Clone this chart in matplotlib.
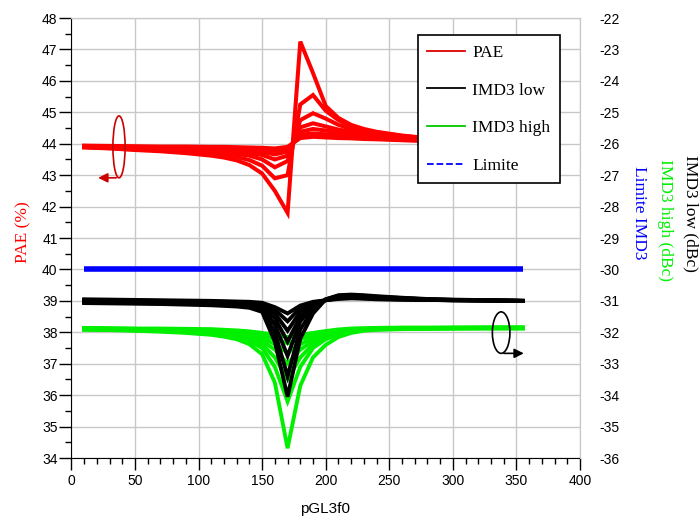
import matplotlib
matplotlib.use("Agg")
import matplotlib.pyplot as plt
from matplotlib.lines import Line2D
from matplotlib.patches import Ellipse
from matplotlib.ticker import MultipleLocator

plt.rcParams['font.family'] = ['Liberation Sans', 'DejaVu Sans']
plt.rcParams['axes.unicode_minus'] = False

# sweep of pGL3f0
x = [10, 30, 50, 70, 90, 110, 120, 130, 140, 150, 160, 170, 180, 190, 200, 210, 220, 230, 240, 260, 280, 300, 330, 355]

# PAE (%) family
pae = [
    [43.88, 43.85, 43.80, 43.76, 43.70, 43.62, 43.56, 43.47, 43.32, 43.05, 42.50, 41.80, 47.25, 46.25, 45.20, 44.82, 44.60, 44.47, 44.38, 44.26, 44.18, 44.13, 44.08, 44.06],
    [43.89, 43.86, 43.82, 43.79, 43.74, 43.68, 43.64, 43.58, 43.48, 43.30, 42.90, 43.00, 45.25, 45.55, 45.05, 44.75, 44.55, 44.44, 44.36, 44.25, 44.17, 44.12, 44.08, 44.06],
    [43.90, 43.87, 43.85, 43.82, 43.79, 43.75, 43.72, 43.68, 43.62, 43.50, 43.25, 43.45, 44.75, 44.97, 44.80, 44.60, 44.47, 44.39, 44.32, 44.22, 44.16, 44.11, 44.07, 44.05],
    [43.91, 43.89, 43.87, 43.85, 43.83, 43.80, 43.78, 43.75, 43.71, 43.64, 43.50, 43.62, 44.52, 44.65, 44.55, 44.45, 44.38, 44.32, 44.27, 44.20, 44.14, 44.10, 44.07, 44.05],
    [43.92, 43.90, 43.89, 43.87, 43.86, 43.84, 43.82, 43.80, 43.78, 43.74, 43.66, 43.75, 44.38, 44.47, 44.42, 44.36, 44.30, 44.26, 44.23, 44.17, 44.12, 44.09, 44.06, 44.04],
    [43.93, 43.91, 43.90, 43.89, 43.88, 43.87, 43.86, 43.85, 43.83, 43.81, 43.77, 43.83, 44.28, 44.33, 44.30, 44.27, 44.24, 44.21, 44.19, 44.14, 44.10, 44.08, 44.05, 44.04],
    [43.94, 43.93, 43.92, 43.91, 43.91, 43.90, 43.90, 43.89, 43.88, 43.87, 43.85, 43.90, 44.18, 44.22, 44.20, 44.18, 44.17, 44.15, 44.14, 44.11, 44.08, 44.06, 44.04, 44.03],
]

# IMD3 low (dBc) family
imd3_low = [
    [-31.07, -31.08, -31.09, -31.10, -31.12, -31.14, -31.16, -31.18, -31.22, -31.35, -32.30, -34.05, -32.20, -31.40, -30.95, -30.82, -30.80, -30.82, -30.85, -30.90, -30.94, -30.96, -30.98, -31.00],
    [-31.05, -31.06, -31.07, -31.08, -31.09, -31.11, -31.13, -31.15, -31.19, -31.29, -32.00, -33.40, -31.90, -31.30, -30.95, -30.84, -30.82, -30.84, -30.87, -30.91, -30.95, -30.97, -30.98, -31.00],
    [-31.03, -31.04, -31.05, -31.06, -31.07, -31.08, -31.10, -31.12, -31.15, -31.23, -31.75, -32.75, -31.65, -31.22, -30.96, -30.86, -30.84, -30.86, -30.88, -30.92, -30.95, -30.97, -30.99, -31.00],
    [-31.01, -31.02, -31.03, -31.04, -31.05, -31.06, -31.08, -31.10, -31.12, -31.18, -31.55, -32.30, -31.50, -31.15, -30.97, -30.88, -30.86, -30.88, -30.90, -30.93, -30.96, -30.98, -30.99, -31.00],
    [-30.99, -31.00, -31.01, -31.02, -31.03, -31.04, -31.06, -31.07, -31.09, -31.14, -31.40, -31.95, -31.35, -31.10, -30.98, -30.90, -30.88, -30.90, -30.92, -30.95, -30.97, -30.98, -30.99, -31.00],
    [-30.97, -30.98, -30.99, -31.00, -31.01, -31.02, -31.03, -31.04, -31.06, -31.10, -31.28, -31.65, -31.22, -31.06, -30.98, -30.92, -30.90, -30.92, -30.94, -30.96, -30.97, -30.98, -30.99, -31.00],
    [-30.95, -30.96, -30.97, -30.98, -30.99, -31.00, -31.01, -31.02, -31.03, -31.06, -31.20, -31.40, -31.15, -31.03, -30.98, -30.94, -30.92, -30.93, -30.95, -30.96, -30.97, -30.98, -30.99, -31.00],
]

# IMD3 high (dBc) family
imd3_high = [
    [-31.92, -31.93, -31.95, -31.98, -32.02, -32.08, -32.14, -32.22, -32.38, -32.70, -33.60, -35.69, -33.70, -32.80, -32.40, -32.15, -32.02, -31.95, -31.92, -31.90, -31.89, -31.88, -31.88, -31.88],
    [-31.91, -31.92, -31.94, -31.96, -31.99, -32.04, -32.08, -32.15, -32.28, -32.50, -33.10, -34.20, -33.10, -32.50, -32.22, -32.07, -31.98, -31.93, -31.91, -31.89, -31.88, -31.88, -31.87, -31.87],
    [-31.90, -31.91, -31.93, -31.95, -31.97, -32.01, -32.05, -32.10, -32.20, -32.38, -32.80, -33.50, -32.80, -32.38, -32.15, -32.03, -31.96, -31.92, -31.90, -31.88, -31.88, -31.87, -31.87, -31.87],
    [-31.89, -31.90, -31.92, -31.93, -31.95, -31.98, -32.02, -32.06, -32.14, -32.28, -32.55, -33.00, -32.55, -32.28, -32.10, -32.00, -31.94, -31.91, -31.89, -31.88, -31.87, -31.87, -31.86, -31.86],
    [-31.88, -31.89, -31.90, -31.92, -31.93, -31.96, -31.99, -32.02, -32.08, -32.18, -32.38, -32.65, -32.38, -32.18, -32.05, -31.97, -31.92, -31.90, -31.88, -31.87, -31.87, -31.86, -31.86, -31.86],
    [-31.87, -31.88, -31.89, -31.90, -31.91, -31.93, -31.95, -31.98, -32.02, -32.10, -32.22, -32.35, -32.22, -32.10, -32.00, -31.94, -31.90, -31.88, -31.87, -31.86, -31.86, -31.85, -31.85, -31.85],
    [-31.86, -31.87, -31.88, -31.88, -31.89, -31.90, -31.92, -31.94, -31.97, -32.02, -32.08, -32.15, -32.08, -32.02, -31.96, -31.91, -31.88, -31.87, -31.86, -31.85, -31.85, -31.85, -31.84, -31.84],
]

# IMD3 limit
limite_x = [10, 355]
limite = [-30, -30]

RED = '#ff0000'
GREEN = '#00f000'
BLUE = '#0000ff'
GRID = '#c8c8c8'

fig = plt.figure(figsize=(7, 5.25), dpi=100)
ax = fig.add_axes([0.1021, 0.1276, 0.7264, 0.8381])
ax2 = ax.twinx()

for y in pae:
    ax.plot(x, y, color=RED, lw=2.9, solid_joinstyle='miter', zorder=3)
for y in imd3_high:
    ax2.plot(x, y, color=GREEN, lw=2.8, solid_joinstyle='miter')
for y in imd3_low:
    ax2.plot(x, y, color='black', lw=2.8, solid_joinstyle='miter')
ax2.plot(limite_x, limite, color=BLUE, lw=4, solid_capstyle='butt')

ax.set_xlim(0, 400)
ax.set_ylim(34, 48)
ax2.set_ylim(-36, -22)

ax.xaxis.set_major_locator(MultipleLocator(50))
ax.xaxis.set_minor_locator(MultipleLocator(10))
ax.yaxis.set_major_locator(MultipleLocator(1))
ax.yaxis.set_minor_locator(MultipleLocator(0.5))
ax2.yaxis.set_major_locator(MultipleLocator(1))

ax.tick_params(which='major', direction='out', length=8.5, width=1, labelsize=10, pad=1.5)
ax.tick_params(which='minor', direction='out', length=4.5, width=1)
ax.tick_params(axis='x', which='major', pad=3)
ax2.tick_params(which='major', length=0, labelsize=10, pad=14)

ax.grid(True, which='major', color=GRID, lw=1)
ax.set_axisbelow(True)
for s in ['top', 'right']:
    ax.spines[s].set_color(GRID)
    ax2.spines[s].set_color(GRID)
ax2.spines['left'].set_visible(False)
ax2.spines['bottom'].set_visible(False)

# rotation markers pointing to each axis
ax.add_patch(Ellipse((37.4, 43.9), 9.6, 1.97, fill=False, ec='#cc0000', lw=1.2, zorder=4))
ax.annotate('', xy=(18.8, 42.915), xytext=(37.4, 42.915),
            arrowprops=dict(arrowstyle='-|>', color='#cc0000', lw=1.2, mutation_scale=14), zorder=4)
ax2.add_patch(Ellipse((338, -32.01), 13.8, 1.32, fill=False, ec='black', lw=1.2, zorder=4))
ax2.annotate('', xy=(358, -32.67), xytext=(338, -32.67),
             arrowprops=dict(arrowstyle='-|>', color='black', lw=1.2, mutation_scale=14), zorder=4)

handles = [Line2D([], [], color='#dd0000', lw=1.3),
           Line2D([], [], color='black', lw=1.3),
           Line2D([], [], color='#00c800', lw=1.3),
           Line2D([], [], color=BLUE, lw=1.3, ls='--')]
leg = ax2.legend(handles, ['PAE', 'IMD3 low', 'IMD3 high', 'Limite'],
                 loc='upper left', bbox_to_anchor=(0.681, 0.961),
                 prop={'family': 'Liberation Serif', 'size': 12.5},
                 frameon=True, fancybox=False, edgecolor='black', framealpha=1,
                 handlelength=2.2, labelspacing=1.24, borderpad=0.55, handletextpad=0.4,
                 borderaxespad=0)
leg.get_frame().set_linewidth(1.2)

serif = {'family': 'Liberation Serif', 'size': 12.5}
fig.text(0.034, 0.558, 'PAE (%)', color=RED, rotation=90, ha='center', va='center', fontdict=serif)
fig.text(0.987, 0.594, 'IMD3 low (dBc)', color='black', rotation=-90, ha='center', va='center', fontdict=serif)
fig.text(0.950, 0.581, 'IMD3 high (dBc)', color=GREEN, rotation=-90, ha='center', va='center', fontdict=serif)
fig.text(0.913, 0.594, 'Limite IMD3', color=BLUE, rotation=-90, ha='center', va='center', fontdict=serif)
fig.text(0.464, 0.017, 'pGL3f0', ha='center', va='bottom', fontsize=11)

fig.savefig('out.png', dpi=100)
